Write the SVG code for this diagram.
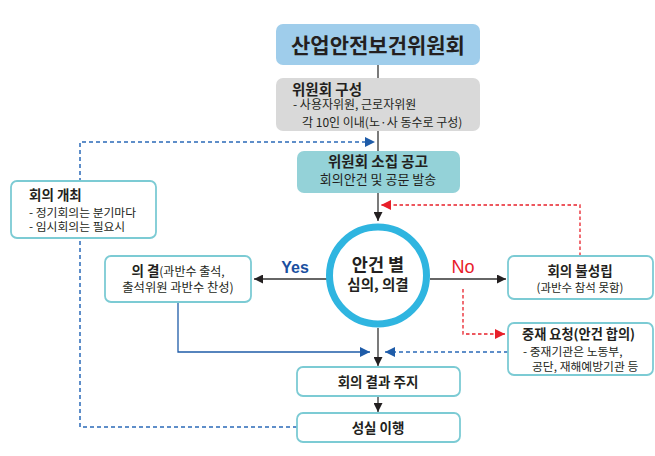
<svg xmlns="http://www.w3.org/2000/svg" width="655" height="456" viewBox="0 0 655 456">
<defs>
<style>
text{font-family:"Noto Sans CJK KR","Noto Sans",sans-serif;fill:#231f20}
.b{font-weight:bold}
.m{text-anchor:middle}
.box{fill:#fff;stroke:#7ccbd4;stroke-width:1.8}
.ln{fill:none;stroke:#333;stroke-width:1.3}
.bd{fill:none;stroke:#2a6ab8;stroke-width:1.5;stroke-dasharray:4 3}
.rd{fill:none;stroke:#e8202a;stroke-width:1.3;stroke-dasharray:3.5 2.5}
.bs{fill:none;stroke:#1f5ca8;stroke-width:1.3}
</style>
<marker id="ak" viewBox="0 0 10 10" refX="10" refY="5" markerWidth="9" markerHeight="9" markerUnits="userSpaceOnUse" orient="auto"><path d="M0,0L10,5L0,10z" fill="#231f20"/></marker>
<marker id="ab" viewBox="0 0 10 10" refX="10" refY="5" markerWidth="10" markerHeight="10" markerUnits="userSpaceOnUse" orient="auto"><path d="M0,0L10,5L0,10z" fill="#1f5ca8"/></marker>
<marker id="ar" viewBox="0 0 10 10" refX="10" refY="5" markerWidth="10" markerHeight="10" markerUnits="userSpaceOnUse" orient="auto"><path d="M0,0L10,5L0,10z" fill="#e8202a"/></marker>
</defs>
<rect width="655" height="456" fill="#fff"/>
<g id="connectors">
<line class="ln" x1="378" y1="65" x2="378" y2="78"/>
<line class="ln" x1="378" y1="131" x2="378" y2="151"/>
<line class="ln" x1="378" y1="193" x2="378" y2="221" marker-end="url(#ak)"/>
<line class="ln" x1="378" y1="328" x2="378" y2="366" marker-end="url(#ak)"/>
<line class="ln" x1="378" y1="396" x2="378" y2="412" marker-end="url(#ak)"/>
<line class="ln" x1="327" y1="279" x2="254" y2="279" marker-end="url(#ak)"/>
<line class="ln" x1="430" y1="279" x2="506" y2="279" marker-end="url(#ak)"/>
<polyline class="bd" points="297,427 80,427 80,142 375,142" marker-end="url(#ab)"/>
<polyline class="bs" points="178,302 178,352 370,352" marker-end="url(#ab)"/>
<line class="bd" x1="508" y1="352" x2="385" y2="352" marker-end="url(#ab)"/>
<polyline class="rd" points="580,256 580,205 381,205" marker-end="url(#ar)"/>
<polyline class="rd" points="463,289 463,334 505,334" marker-end="url(#ar)"/>
<text x="295" y="273" class="b m" style="fill:#1a4fa0;font-family:'Liberation Sans',sans-serif;font-size:16px">Yes</text>
<text x="463" y="273" class="m" style="fill:#e8202a;font-family:'Liberation Sans',sans-serif;font-size:18px">No</text>
</g>
<g id="title">
<rect x="276" y="24" width="204" height="41" rx="7" fill="#9fcdeb"/>
<text x="378" y="52.5" class="b m" style="font-size:21px">산업안전보건위원회</text>
</g>
<g id="composition">
<rect x="276" y="78" width="204" height="53" rx="7" fill="#d9d9d9"/>
<text x="292" y="94.5" class="b" style="font-size:14.5px">위원회 구성</text>
<text x="293" y="109" style="font-size:12px">- 사용자위원, 근로자위원</text>
<text x="302" y="127" style="font-size:12px">각 10인 이내(노·사 동수로 구성)</text>
</g>
<g id="notice">
<rect x="297" y="151" width="163" height="42" rx="7" fill="#94d2d8"/>
<text x="378" y="166.5" class="b m" style="font-size:14.5px">위원회 소집 공고</text>
<text x="378" y="184" class="m" style="font-size:13px">회의안건 및 공문 발송</text>
</g>
<g id="meeting">
<rect class="box" x="11" y="181" width="145" height="57" rx="6"/>
<text x="29" y="199.5" class="b" style="font-size:13.5px">회의 개최</text>
<text x="29" y="216.5" style="font-size:11.8px">- 정기회의는 분기마다</text>
<text x="29" y="231" style="font-size:11.8px">- 임시회의는 필요시</text>
</g>
<g id="review">
<circle cx="378" cy="275.5" r="48.5" fill="#fff" stroke="#2fb5e0" stroke-width="7"/>
<text x="378" y="271" class="b m" style="font-size:17.5px">안건 별</text>
<text x="378" y="290" class="b m" style="font-size:14.5px">심의, 의결</text>
</g>
<g id="resolution">
<rect class="box" x="105" y="256" width="146" height="46" rx="6"/>
<text x="178" y="275.5" class="m" style="font-size:12px"><tspan class="b" style="font-size:13.5px">의 결</tspan>(과반수 출석,</text>
<text x="178" y="291.5" class="m" style="font-size:12.3px">출석위원 과반수 찬성)</text>
</g>
<g id="nonquorum">
<rect class="box" x="508" y="256" width="145" height="43" rx="6"/>
<text x="580" y="276" class="b m" style="font-size:13.5px">회의 불성립</text>
<text x="580" y="292" class="m" style="font-size:11.5px">(과반수 참석 못함)</text>
</g>
<g id="mediation">
<rect class="box" x="508" y="323" width="145" height="52" rx="6"/>
<text x="522" y="339" class="b" style="font-size:13.2px">중재 요청(안건 합의)</text>
<text x="523" y="356" style="font-size:11.8px">- 중재기관은 노동부,</text>
<text x="532" y="371" style="font-size:11.8px">공단, 재해예방기관 등</text>
</g>
<g id="notify">
<rect class="box" x="297" y="367" width="163" height="29" rx="6"/>
<text x="378" y="386.5" class="b m" style="font-size:13.5px">회의 결과 주지</text>
</g>
<g id="execute">
<rect class="box" x="297" y="413" width="163" height="29" rx="6"/>
<text x="378" y="432.5" class="b m" style="font-size:13.5px">성실 이행</text>
</g>
</svg>
